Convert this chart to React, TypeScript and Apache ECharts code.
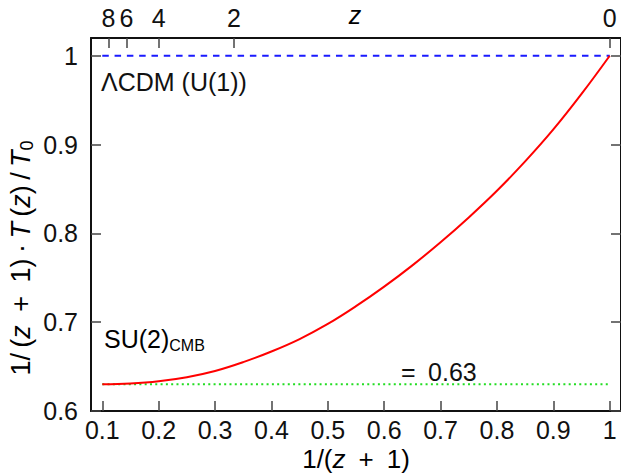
import React, { useEffect, useRef } from "react";
import * as echarts from "echarts";

const xTicks = [0.1, 0.2, 0.3, 0.4, 0.5, 0.6, 0.7, 0.8, 0.9, 1];
const yTicks = [0.6, 0.7, 0.8, 0.9, 1];
const zTicks = [8, 6, 4, 2, 0];
const curveX = [0.1, 0.15, 0.2, 0.25, 0.3, 0.35, 0.4, 0.45, 0.5, 0.55, 0.6, 0.65, 0.7, 0.75, 0.8, 0.85, 0.9, 0.95, 1.0];
const curveY = [0.63, 0.631, 0.6335, 0.638, 0.645, 0.655, 0.667, 0.681, 0.698, 0.718, 0.74, 0.764, 0.79, 0.818, 0.848, 0.881, 0.917, 0.957, 1.0];
const lcdmX = [0.1, 1];
const lcdmY = [1, 1];
const floorX = [0.1, 1];
const floorY = [0.63, 0.63];

const FONT = "Liberation Sans";
const FS = 25;
const TFS = 26;
const YFS = 27;

export default function App() {
  const ref = useRef<HTMLDivElement>(null);
  useEffect(() => {
    const chart = echarts.init(ref.current!, null, { renderer: "svg" });
    const tickStyle = { color: "#444", width: 1.5 };
    const axisLine = { show: true, lineStyle: { color: "#111", width: 2 } };
    const labelBase = { fontFamily: FONT, fontSize: FS, color: "#111" };
    const fmt = (v: number) => (Math.abs(v - 1) < 1e-9 ? "1" : v.toFixed(1));
    const zVals = zTicks.map((z) => 1 / (z + 1));
    const mkRich = (fs: number, sub: number) => ({
      a: { fontFamily: FONT, fontSize: fs, color: "#111" },
      i: { fontFamily: FONT, fontSize: fs, fontStyle: "italic", color: "#111" },
      s: { fontFamily: FONT, fontSize: sub, color: "#111", verticalAlign: "bottom", padding: [12, 0, 0, 0] },
    });
    const rich = mkRich(FS, 16);
    const trich = mkRich(TFS, 17);
    const yrich = mkRich(YFS, 18);
    chart.setOption({
      animation: false,
      backgroundColor: "#fff",
      grid: { left: 91, top: 38, right: -1, bottom: 63 },
      xAxis: [
        {
          type: "value",
          min: 0.08,
          max: 1.02,
          position: "bottom",
          splitLine: { show: false },
          axisLine,
          axisTick: { inside: true, length: 10, lineStyle: tickStyle, customValues: xTicks },
          axisLabel: { ...labelBase, margin: 6, customValues: xTicks, formatter: fmt },
        },
        {
          type: "value",
          min: 0.08,
          max: 1.02,
          position: "top",
          splitLine: { show: false },
          axisLine,
          axisTick: { inside: true, length: 10, lineStyle: tickStyle, customValues: zVals },
          axisLabel: {
            ...labelBase,
            margin: 8,
            customValues: zVals,
            formatter: (v: number) => String(Math.round(1 / v - 1)),
          },
        },
      ],
      yAxis: [
        {
          type: "value",
          min: 0.6,
          max: 1.02,
          position: "left",
          splitLine: { show: false },
          axisLine,
          axisTick: { inside: true, length: 10, lineStyle: tickStyle, customValues: yTicks },
          axisLabel: { ...labelBase, margin: 13, customValues: yTicks, formatter: fmt },
        },
        {
          type: "value",
          min: 0.6,
          max: 1.02,
          position: "right",
          splitLine: { show: false },
          axisLine,
          axisTick: { inside: true, length: 10, lineStyle: tickStyle, customValues: yTicks },
          axisLabel: { show: false },
        },
      ],
      series: [
        {
          type: "line",
          data: floorX.map((x, i) => [x, floorY[i]]),
          symbol: "none",
          lineStyle: { color: "#22dd22", width: 2, type: [2, 3.3] },
          z: 1,
        },
        {
          type: "line",
          data: lcdmX.map((x, i) => [x, lcdmY[i]]),
          symbol: "none",
          lineStyle: { color: "#1a1aff", width: 2, type: [6.5, 5.8] },
          z: 2,
        },
        {
          type: "line",
          data: curveX.map((x, i) => [x, curveY[i]]),
          symbol: "none",
          smooth: 0.4,
          lineStyle: { color: "#ff0000", width: 2 },
          z: 3,
        },
      ],
      graphic: [
        {
          type: "text",
          x: 356,
          y: 459,
          style: {
            text: "{a|1/(}{i|z}{a|\u2002+\u20021)}",
            rich: trich,
            align: "center",
            verticalAlign: "middle",
          },
        },
        {
          type: "text",
          x: 355,
          y: 15,
          style: { text: "{i|z}", rich, align: "center", verticalAlign: "middle" },
        },
        {
          type: "text",
          x: 21,
          y: 258,
          rotation: Math.PI / 2,
          style: {
            text: "{a|1/\u2009(}{i|z}{a|\u2002+\u20021)\u2009·\u2009}{i|T}{a|\u2009(}{i|z}{a|)\u2009/\u2009}{i|T}{s|0}",
            rich: yrich,
            align: "center",
            verticalAlign: "middle",
          },
        },
        {
          type: "text",
          x: 101,
          y: 82,
          style: { text: "ΛCDM (U(1))", fontFamily: FONT, fontSize: FS, fill: "#111", verticalAlign: "middle" },
        },
        {
          type: "text",
          x: 104,
          y: 339,
          style: { text: "{a|SU(2)}{s|CMB}", rich, verticalAlign: "middle" },
        },
        {
          type: "text",
          x: 401,
          y: 372,
          style: { text: "=\u20020.63", fontFamily: FONT, fontSize: FS, fill: "#111", verticalAlign: "middle" },
        },
      ],
    });
    return () => chart.dispose();
  }, []);
  return <div ref={ref} style={{ position: "absolute", left: 0, top: 0, width: 621, height: 474 }} />;
}
